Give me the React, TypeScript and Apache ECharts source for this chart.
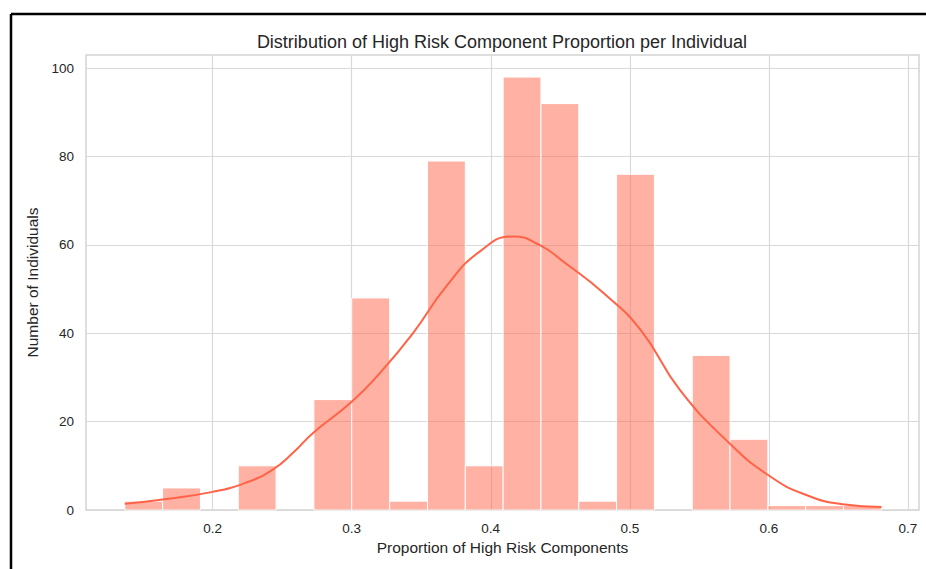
import React, { useEffect, useRef } from "react";
import * as echarts from "echarts";

const binEdges = [
  0.1368, 0.164, 0.1912, 0.2184, 0.2456, 0.2728, 0.3, 0.3273, 0.3545, 0.3817,
  0.4089, 0.4361, 0.4633, 0.4905, 0.5177, 0.5449, 0.5721, 0.5993, 0.6265,
  0.6537, 0.6809,
];
const binCounts = [2, 5, 0, 10, 0, 25, 48, 2, 79, 10, 98, 92, 2, 76, 0, 35, 16, 1, 1, 1];

const kdeX = [
  0.1368, 0.164, 0.2, 0.224, 0.243, 0.258, 0.272, 0.3, 0.32,
  0.344, 0.368, 0.392, 0.416, 0.435, 0.454, 0.4815,
  0.5079, 0.536, 0.5717, 0.6, 0.626, 0.653, 0.681,
];
const kdeY = [
  1.4, 2.4, 4.1, 6.2, 9.1, 13.0, 17.4, 24.5, 30.9, 40.0, 50.6,
  58.5, 61.9, 60.0, 55.8, 49.0, 40.7, 27.2, 15.1, 7.8, 3.5, 1.3, 0.7,
];

const xTicks = [0.2, 0.3, 0.4, 0.5, 0.6, 0.7];
const yTicks = [0, 20, 40, 60, 80, 100];

const titleText = "Distribution of High Risk Component Proportion per Individual";
const xName = "Proportion of High Risk Components";
const yName = "Number of Individuals";

const FONT = "'Liberation Sans', Arial, sans-serif";
const TEXT = "#262626";

export default function App() {
  const ref = useRef<HTMLDivElement>(null);
  useEffect(() => {
    if (!ref.current) return;
    const chart = echarts.init(ref.current, null, { renderer: "svg" });
    const histData = binCounts.map((c, i) => [binEdges[i], binEdges[i + 1], c]);
    const kdeData = kdeX.map((x, i) => [x, kdeY[i]]);
    chart.setOption({
      animation: false,
      backgroundColor: "#ffffff",
      title: {
        text: titleText,
        left: 502,
        top: 33,
        textAlign: "center",
        padding: 0,
        textStyle: { fontFamily: FONT, fontSize: 18, fontWeight: "normal", color: TEXT },
      },
      grid: {
        left: 86,
        right: 7,
        top: 55,
        bottom: 59,
        show: true,
        borderColor: "#d4d4d4",
        borderWidth: 1.5,
        backgroundColor: "transparent",
      },
      xAxis: {
        type: "value",
        min: 0.1089,
        max: 0.708,
        name: xName,
        nameLocation: "middle",
        nameGap: 29,
        nameTextStyle: { fontFamily: FONT, fontSize: 15.5, color: TEXT },
        axisLine: { show: false },
        axisTick: { show: false, customValues: xTicks },
        axisLabel: {
          customValues: xTicks,
          fontFamily: FONT,
          fontSize: 13.5,
          color: TEXT,
          margin: 11,
          formatter: (v: number) => String(Math.round(v * 10) / 10),
        },
        splitLine: { show: true, lineStyle: { color: "#d9d9d9", width: 1.2 } },
      },
      yAxis: {
        type: "value",
        min: 0,
        max: 103,
        name: yName,
        nameLocation: "middle",
        nameGap: 40,
        nameTextStyle: { fontFamily: FONT, fontSize: 15.5, color: TEXT },
        axisLine: { show: false },
        axisTick: { show: false, customValues: yTicks },
        axisLabel: {
          customValues: yTicks,
          fontFamily: FONT,
          fontSize: 13.5,
          color: TEXT,
          margin: 12,
        },
        splitLine: { show: true, lineStyle: { color: "#d9d9d9", width: 1.2 } },
      },
      graphic: [
        {
          type: "line",
          shape: { x1: 11, y1: 14, x2: 926, y2: 14 },
          style: { stroke: "#000", lineWidth: 2.5 },
        },
        {
          type: "line",
          shape: { x1: 11, y1: 14, x2: 11, y2: 569 },
          style: { stroke: "#000", lineWidth: 2.5 },
        },
      ],
      series: [
        {
          type: "custom",
          name: "hist",
          data: histData,
          encode: { x: [0, 1], y: 2 },
          z: 2,
          renderItem: (params: any, api: any) => {
            const x0 = api.value(0);
            const x1 = api.value(1);
            const c = api.value(2);
            if (!c) return null;
            const p0 = api.coord([x0, c]);
            const p1 = api.coord([x1, 0]);
            return {
              type: "rect",
              shape: { x: p0[0], y: p0[1], width: p1[0] - p0[0], height: p1[1] - p0[1] },
              style: { fill: "rgba(255,99,71,0.5)", stroke: "#ffffff", lineWidth: 1 },
            };
          },
        },
        {
          type: "line",
          name: "kde",
          data: kdeData,
          z: 5,
          symbol: "none",
          smooth: 0.5,
          lineStyle: { color: "#ff6347", width: 2 },
        },
      ],
    });
    return () => chart.dispose();
  }, []);
  return (
    <div
      ref={ref}
      style={{ position: "fixed", left: 0, top: 0, width: 926, height: 569, background: "#fff" }}
    />
  );
}
